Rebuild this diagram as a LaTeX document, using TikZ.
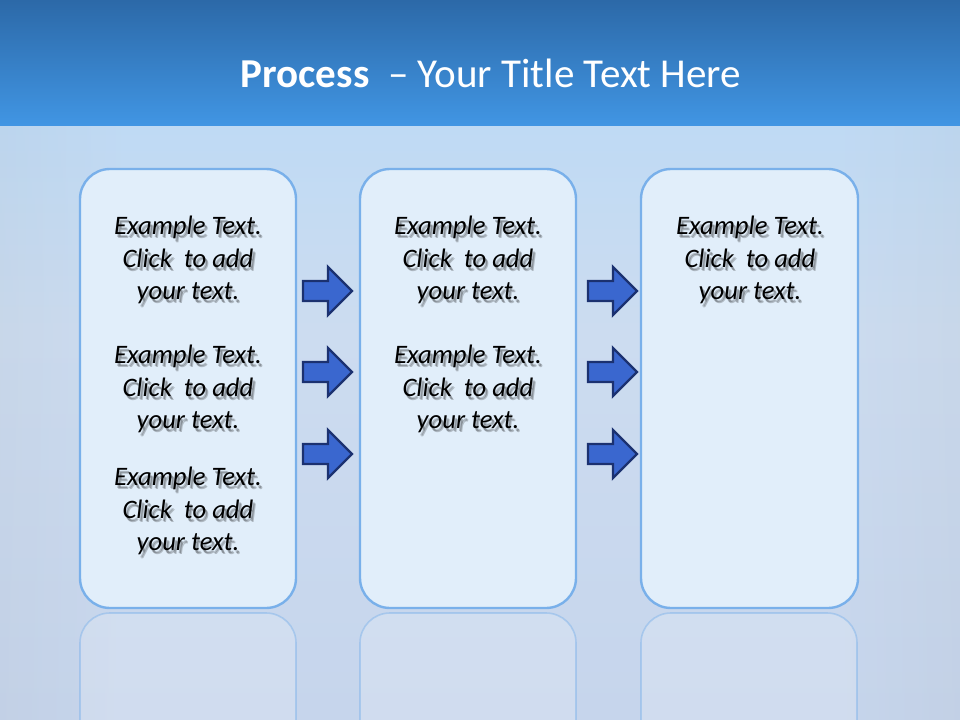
\documentclass[tikz,border=0pt]{standalone}
\usepackage{fontspec}
\setmainfont{Carlito}
\definecolor{topA}{HTML}{2C69A8}
\definecolor{topB}{HTML}{4196E4}
\definecolor{bgA}{HTML}{BFDAF4}
\definecolor{bgB}{HTML}{CCDCF0}
\definecolor{bgC}{HTML}{C6D5EC}
\definecolor{boxfill}{HTML}{E1EEFA}
\definecolor{boxline}{HTML}{79B0EA}
\definecolor{arrfill}{HTML}{3A67CF}
\definecolor{arrline}{HTML}{1B3170}
\tikzset{
  procbox/.style={draw=boxline, line width=2.4pt*0.75, fill=boxfill, rounded corners=22.5pt},
  reflbox/.style={draw=boxline, draw opacity=0.45, line width=1.6pt*0.75, fill=white, fill opacity=0.18, rounded corners=22.5pt},
  blockarrow/.style={draw=arrline, fill=arrfill, line width=2.4pt*0.75, line join=miter},
  ex/.style={font=\fontsize{20}{24.4}\selectfont\itshape, align=center, text=black},
  exshadow/.style={font=\fontsize{20}{24.4}\selectfont\itshape, align=center, text=black, text opacity=0.22},
}
\newcommand{\exampletext}[2]{%
  \foreach \dx/\dy in {2/3,3/4}{\node[exshadow] at ([xshift=\dx*0.75pt,yshift=-\dy*0.75pt]#2) {Example Text.\\Click\ \ to add\\your text.};}
  \node[ex] (#1) at (#2) {Example Text.\\Click\ \ to add\\your text.};}
\newcommand{\barrow}[3]{%
  \coordinate (#1) at (#2,#3);
  \path[blockarrow] (#2,#3-10) -- (#2+25,#3-10) -- (#2+25,#3-24) -- (#2+49,#3) -- (#2+25,#3+24) -- (#2+25,#3+10) -- (#2,#3+10) -- cycle;}
\begin{document}
\begin{tikzpicture}[x=0.75pt,y=-0.75pt]
\useasboundingbox (0,0) rectangle (960,720);
% background
\shade[top color=topA, bottom color=topB] (0,0) rectangle (960,127);
\shade[top color=bgA, bottom color=bgB] (0,127) rectangle (960,330);
\shade[top color=bgB, bottom color=bgC] (0,330) rectangle (960,720);
\shade[left color=black!40, right color=bgB, opacity=0.07] (0,127) rectangle (120,720);
\shade[right color=black!40, left color=bgB, opacity=0.07] (840,127) rectangle (960,720);
% title
\node[text=white, font=\fontsize{30.8}{37}\selectfont, anchor=base] (title) at (491,88) {\textbf{Process}\ \ – Your Title Text Here};
% reflections
\begin{scope}
\clip (0,611) rectangle (960,720);
\foreach \x in {80,360,641}{\path[reflbox] (\x,613) rectangle (\x+216,1052);}
\end{scope}
% boxes
\path[procbox] (80,169) rectangle (296,608) node[pos=0.5] (b1) {};
\path[procbox] (360,169) rectangle (576,608) node[pos=0.5] (b2) {};
\path[procbox] (641,169) rectangle (858,608) node[pos=0.5] (b3) {};
% texts
\exampletext{t11}{188,260}
\exampletext{t12}{188,389}
\exampletext{t13}{188,511}
\exampletext{t21}{468,260}
\exampletext{t22}{468,389}
\exampletext{t31}{750,260}
% arrows
\barrow{a1}{303}{291}
\barrow{a2}{303}{372}
\barrow{a3}{303}{454}
\barrow{a4}{588}{291}
\barrow{a5}{588}{372}
\barrow{a6}{588}{454}
\end{tikzpicture}
\end{document}
